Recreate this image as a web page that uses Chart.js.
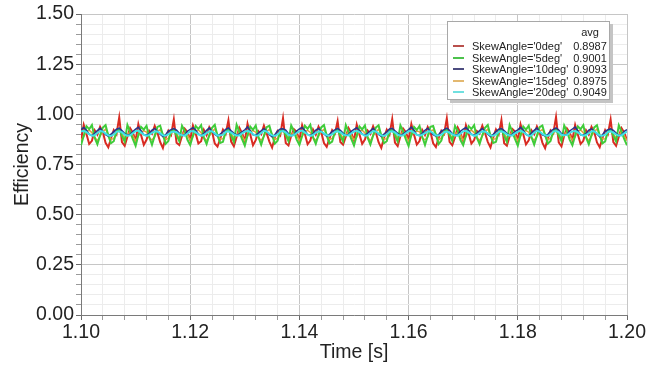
<!DOCTYPE html>
<html>
<head>
<meta charset="utf-8">
<script src="https://cdn.jsdelivr.net/npm/chart.js@4.4.1/dist/chart.umd.min.js"></script>
<style>
  body { margin: 0; background: #fff; }
  #wrap { position: relative; width: 652px; height: 370px; }
  #legend {
    position: absolute; left: 447px; top: 21px; width: 161px; height: 77px;
    background: #fff; border: 1px solid #a8a8a8; box-shadow: 3px 3px 0 #c4c4c4;
    font: 11px "Liberation Sans", Arial, sans-serif; color: #222;
  }
  #legend .row { position: absolute; left: 0; width: 161px; height: 12px; line-height: 12px; }
  #legend .sw { position: absolute; left: 5px; top: 5px; width: 11px; height: 2px; }
  #legend .lab { position: absolute; left: 24px; white-space: nowrap; }
  #legend .val { position: absolute; right: 2px; width: 34px; text-align: center; }
</style>
</head>
<body>
<div id="wrap">
  <canvas id="myChart" width="652" height="370"></canvas>
  <div id="legend"></div>
</div>
<script>
// time samples [s]
const time = [
  1.1000,1.1005,1.1010,1.1015,1.1020,1.1025,1.1030,1.1035,1.1040,1.1045,1.1050,1.1055,1.1060,1.1065,1.1070,1.1075,1.1080,1.1085,1.1090,1.1095,
  1.1100,1.1105,1.1110,1.1115,1.1120,1.1125,1.1130,1.1135,1.1140,1.1145,1.1150,1.1155,1.1160,1.1165,1.1170,1.1175,1.1180,1.1185,1.1190,1.1195,
  1.1200,1.1205,1.1210,1.1215,1.1220,1.1225,1.1230,1.1235,1.1240,1.1245,1.1250,1.1255,1.1260,1.1265,1.1270,1.1275,1.1280,1.1285,1.1290,1.1295,
  1.1300,1.1305,1.1310,1.1315,1.1320,1.1325,1.1330,1.1335,1.1340,1.1345,1.1350,1.1355,1.1360,1.1365,1.1370,1.1375,1.1380,1.1385,1.1390,1.1395,
  1.1400,1.1405,1.1410,1.1415,1.1420,1.1425,1.1430,1.1435,1.1440,1.1445,1.1450,1.1455,1.1460,1.1465,1.1470,1.1475,1.1480,1.1485,1.1490,1.1495,
  1.1500,1.1505,1.1510,1.1515,1.1520,1.1525,1.1530,1.1535,1.1540,1.1545,1.1550,1.1555,1.1560,1.1565,1.1570,1.1575,1.1580,1.1585,1.1590,1.1595,
  1.1600,1.1605,1.1610,1.1615,1.1620,1.1625,1.1630,1.1635,1.1640,1.1645,1.1650,1.1655,1.1660,1.1665,1.1670,1.1675,1.1680,1.1685,1.1690,1.1695,
  1.1700,1.1705,1.1710,1.1715,1.1720,1.1725,1.1730,1.1735,1.1740,1.1745,1.1750,1.1755,1.1760,1.1765,1.1770,1.1775,1.1780,1.1785,1.1790,1.1795,
  1.1800,1.1805,1.1810,1.1815,1.1820,1.1825,1.1830,1.1835,1.1840,1.1845,1.1850,1.1855,1.1860,1.1865,1.1870,1.1875,1.1880,1.1885,1.1890,1.1895,
  1.1900,1.1905,1.1910,1.1915,1.1920,1.1925,1.1930,1.1935,1.1940,1.1945,1.1950,1.1955,1.1960,1.1965,1.1970,1.1975,1.1980,1.1985,1.1990,1.1995,
  1.2000
];

const seriesNames = ["SkewAngle='0deg'", "SkewAngle='5deg'", "SkewAngle='10deg'", "SkewAngle='15deg'", "SkewAngle='20deg'"];
const avgValues = ['0.8987', '0.9001', '0.9093', '0.8975', '0.9049'];

const skew0 = [
  0.872,0.948,0.902,0.852,0.868,0.921,0.899,0.938,0.912,0.858,0.836,0.881,0.922,0.901,0.985,0.861,0.843,0.889,0.931,0.909,
  0.868,0.951,0.897,0.848,0.873,0.918,0.903,0.942,0.908,0.862,0.832,0.884,0.919,0.898,0.975,0.858,0.847,0.892,0.928,0.912,
  0.874,0.944,0.905,0.855,0.866,0.923,0.896,0.936,0.914,0.855,0.839,0.878,0.924,0.903,0.970,0.864,0.841,0.887,0.933,0.906,
  0.866,0.953,0.899,0.846,0.871,0.916,0.901,0.944,0.906,0.864,0.834,0.886,0.917,0.897,0.981,0.857,0.845,0.893,0.926,0.913,
  0.871,0.946,0.903,0.851,0.869,0.924,0.898,0.939,0.911,0.857,0.838,0.879,0.921,0.904,0.966,0.862,0.849,0.888,0.932,0.908,
  0.869,0.949,0.900,0.853,0.874,0.919,0.902,0.941,0.909,0.861,0.833,0.883,0.923,0.899,0.976,0.859,0.842,0.891,0.929,0.911,
  0.873,0.952,0.898,0.849,0.867,0.922,0.897,0.937,0.913,0.856,0.837,0.882,0.918,0.902,0.980,0.863,0.846,0.886,0.934,0.907,
  0.867,0.945,0.904,0.854,0.872,0.917,0.904,0.943,0.907,0.863,0.835,0.885,0.925,0.900,0.971,0.856,0.844,0.890,0.927,0.914,
  0.870,0.950,0.901,0.850,0.870,0.920,0.900,0.940,0.910,0.859,0.831,0.880,0.920,0.905,0.986,0.860,0.840,0.894,0.930,0.910,
  0.872,0.947,0.899,0.852,0.868,0.921,0.899,0.938,0.912,0.860,0.836,0.881,0.922,0.901,0.974,0.861,0.843,0.889,0.931,0.909,
  0.871
];
const skew5 = [
  0.846,0.893,0.941,0.926,0.947,0.884,0.851,0.896,0.934,0.946,0.894,0.856,0.866,0.914,0.926,0.893,0.864,0.947,0.913,0.876,
  0.843,0.897,0.938,0.924,0.943,0.887,0.848,0.894,0.937,0.944,0.897,0.853,0.867,0.916,0.923,0.896,0.866,0.943,0.917,0.873,
  0.847,0.894,0.942,0.927,0.946,0.883,0.852,0.897,0.933,0.948,0.893,0.857,0.863,0.913,0.927,0.894,0.863,0.948,0.914,0.877,
  0.844,0.896,0.939,0.923,0.944,0.886,0.849,0.893,0.936,0.943,0.896,0.854,0.868,0.917,0.924,0.897,0.867,0.944,0.916,0.874,
  0.848,0.892,0.943,0.928,0.948,0.885,0.853,0.898,0.935,0.947,0.895,0.855,0.864,0.912,0.925,0.892,0.865,0.946,0.912,0.878,
  0.845,0.895,0.940,0.925,0.945,0.884,0.850,0.895,0.934,0.945,0.894,0.856,0.866,0.915,0.926,0.895,0.864,0.945,0.915,0.875,
  0.842,0.898,0.937,0.922,0.942,0.888,0.847,0.892,0.938,0.942,0.898,0.852,0.869,0.918,0.922,0.898,0.868,0.942,0.918,0.872,
  0.847,0.893,0.941,0.927,0.946,0.883,0.852,0.896,0.933,0.947,0.893,0.857,0.863,0.913,0.927,0.893,0.863,0.947,0.913,0.877,
  0.844,0.896,0.939,0.924,0.944,0.886,0.849,0.894,0.936,0.944,0.896,0.854,0.867,0.916,0.924,0.896,0.866,0.944,0.916,0.874,
  0.846,0.894,0.940,0.926,0.946,0.885,0.851,0.897,0.935,0.946,0.895,0.855,0.865,0.914,0.925,0.894,0.865,0.946,0.914,0.876,
  0.846
];
const skew10 = [
  0.924,0.934,0.921,0.901,0.894,0.906,0.919,0.931,0.914,0.899,0.891,0.901,0.914,0.926,0.931,0.919,0.904,0.896,0.901,0.914,
  0.926,0.936,0.919,0.899,0.896,0.904,0.921,0.929,0.916,0.901,0.889,0.899,0.916,0.924,0.929,0.921,0.906,0.894,0.899,0.916,
  0.925,0.933,0.922,0.902,0.893,0.905,0.920,0.932,0.913,0.900,0.892,0.902,0.913,0.925,0.932,0.918,0.905,0.897,0.902,0.913,
  0.923,0.937,0.918,0.898,0.897,0.907,0.918,0.928,0.917,0.898,0.888,0.898,0.917,0.927,0.928,0.922,0.903,0.893,0.898,0.917,
  0.927,0.935,0.920,0.900,0.895,0.903,0.922,0.930,0.915,0.902,0.890,0.900,0.915,0.923,0.930,0.920,0.907,0.895,0.900,0.915,
  0.925,0.933,0.920,0.902,0.895,0.905,0.918,0.930,0.915,0.900,0.890,0.902,0.913,0.927,0.930,0.918,0.905,0.895,0.902,0.913,
  0.924,0.936,0.921,0.899,0.894,0.906,0.921,0.931,0.914,0.899,0.891,0.899,0.916,0.924,0.931,0.921,0.904,0.896,0.899,0.916,
  0.926,0.934,0.919,0.901,0.896,0.904,0.919,0.929,0.916,0.901,0.889,0.901,0.914,0.926,0.929,0.919,0.906,0.894,0.901,0.914,
  0.923,0.935,0.922,0.900,0.893,0.907,0.920,0.932,0.913,0.898,0.892,0.900,0.917,0.925,0.932,0.922,0.903,0.897,0.900,0.917,
  0.927,0.937,0.918,0.898,0.897,0.903,0.922,0.928,0.917,0.902,0.888,0.898,0.915,0.923,0.928,0.920,0.907,0.893,0.898,0.915,
  0.924
];
const skew15 = [
  0.871,0.889,0.916,0.921,0.909,0.886,0.869,0.891,0.914,0.926,0.899,0.876,0.879,0.906,0.921,0.904,0.881,0.894,0.916,0.894,
  0.868,0.892,0.913,0.918,0.912,0.883,0.872,0.888,0.917,0.923,0.902,0.873,0.882,0.903,0.918,0.907,0.878,0.897,0.913,0.897,
  0.872,0.888,0.917,0.922,0.908,0.887,0.868,0.892,0.913,0.927,0.898,0.877,0.878,0.907,0.922,0.903,0.882,0.893,0.917,0.893,
  0.869,0.891,0.914,0.919,0.911,0.884,0.871,0.889,0.916,0.924,0.901,0.874,0.881,0.904,0.919,0.906,0.879,0.896,0.914,0.896,
  0.870,0.890,0.915,0.920,0.910,0.885,0.870,0.890,0.915,0.925,0.900,0.875,0.880,0.905,0.920,0.905,0.880,0.895,0.915,0.895,
  0.873,0.887,0.918,0.921,0.907,0.888,0.867,0.893,0.912,0.926,0.897,0.878,0.877,0.908,0.921,0.902,0.883,0.892,0.918,0.892,
  0.867,0.893,0.912,0.917,0.913,0.882,0.873,0.887,0.918,0.922,0.903,0.872,0.883,0.902,0.917,0.908,0.877,0.898,0.912,0.898,
  0.871,0.889,0.916,0.921,0.909,0.886,0.869,0.891,0.914,0.926,0.899,0.876,0.879,0.906,0.921,0.904,0.881,0.894,0.916,0.894,
  0.869,0.891,0.914,0.919,0.911,0.884,0.871,0.889,0.916,0.924,0.901,0.874,0.881,0.904,0.919,0.906,0.879,0.896,0.914,0.896,
  0.872,0.888,0.917,0.922,0.908,0.887,0.868,0.892,0.913,0.927,0.898,0.877,0.878,0.907,0.922,0.903,0.882,0.893,0.917,0.893,
  0.870
];
const skew20 = [
  0.914,0.918,0.911,0.901,0.893,0.896,0.907,0.917,0.915,0.904,0.895,0.892,0.900,0.913,0.916,0.910,0.899,0.894,0.896,0.906,
  0.916,0.919,0.909,0.899,0.892,0.898,0.908,0.915,0.914,0.906,0.896,0.893,0.901,0.911,0.914,0.911,0.901,0.896,0.894,0.904,
  0.915,0.917,0.910,0.900,0.894,0.897,0.906,0.916,0.916,0.905,0.894,0.894,0.899,0.912,0.915,0.909,0.900,0.895,0.895,0.905,
  0.913,0.918,0.912,0.902,0.893,0.895,0.907,0.918,0.915,0.903,0.895,0.892,0.900,0.914,0.917,0.910,0.898,0.894,0.897,0.907,
  0.915,0.919,0.910,0.900,0.892,0.897,0.908,0.916,0.914,0.905,0.896,0.893,0.901,0.912,0.915,0.911,0.900,0.896,0.895,0.905,
  0.914,0.918,0.911,0.901,0.893,0.896,0.907,0.917,0.915,0.904,0.895,0.892,0.900,0.913,0.916,0.910,0.899,0.894,0.896,0.906,
  0.916,0.917,0.909,0.899,0.894,0.898,0.906,0.915,0.916,0.906,0.894,0.894,0.899,0.911,0.914,0.909,0.901,0.895,0.894,0.904,
  0.915,0.918,0.910,0.900,0.893,0.897,0.907,0.916,0.915,0.905,0.895,0.893,0.900,0.912,0.915,0.910,0.900,0.895,0.895,0.905,
  0.913,0.919,0.912,0.902,0.892,0.895,0.908,0.918,0.914,0.903,0.896,0.892,0.901,0.914,0.917,0.911,0.898,0.896,0.897,0.907,
  0.915,0.917,0.910,0.900,0.894,0.897,0.906,0.916,0.916,0.905,0.894,0.893,0.899,0.912,0.915,0.909,0.900,0.894,0.895,0.905,
  0.914
];

const xMajorTicks = [1.10, 1.12, 1.14, 1.16, 1.18, 1.20];
const yMajorTicks = [0.00, 0.25, 0.50, 0.75, 1.00, 1.25, 1.50];

// line styles, drawing order: cyan on top, red at the bottom
const styles = [
  { color: '#d92b22', width: 2, order: 5 },
  { color: '#3fcc3a', width: 2, order: 3 },
  { color: '#25358f', width: 1.5, order: 2 },
  { color: '#e3a03a', width: 1.5, order: 4 },
  { color: '#40e2e6', width: 2, order: 1 }
];
const legendSwatch = ['#b9504c', '#4cc24c', '#4c4c80', '#e3b870', '#70e0e0'];

// major ticks with minor subdivisions in between
function withMinor(majors, parts) {
  const out = [];
  for (let i = 0; i < majors.length - 1; i++) {
    const step = (majors[i + 1] - majors[i]) / parts;
    for (let j = 0; j < parts; j++) out.push({ value: majors[i] + j * step, major: j === 0 });
  }
  out.push({ value: majors[majors.length - 1], major: true });
  return out;
}

const font = 'Liberation Sans';
const seriesData = [skew0, skew5, skew10, skew15, skew20];

const canvas = document.getElementById('myChart');
new Chart(canvas, {
  type: 'line',
  data: {
    labels: time,
    datasets: seriesData.map((d, i) => ({
      label: seriesNames[i],
      data: d,
      borderColor: styles[i].color,
      borderWidth: styles[i].width,
      order: styles[i].order,
      pointRadius: 0,
      tension: 0,
      fill: false
    }))
  },
  options: {
    responsive: false,
    animation: false,
    layout: { padding: { left: 0, right: 25, top: 14, bottom: 0 } },
    plugins: { legend: { display: false }, tooltip: { enabled: false } },
    scales: {
      x: {
        type: 'linear',
        min: 1.10,
        max: 1.20,
        afterBuildTicks: s => { s.ticks = withMinor(xMajorTicks, 5); },
        afterFit: s => { s.height = 55; },
        border: { color: '#7a7a7a' },
        grid: {
          color: c => c.tick && c.tick.major ? '#c6c6c6' : '#ececec',
          tickColor: c => c.tick && c.tick.major ? '#6a6a6a' : '#9a9a9a',
          tickLength: 5
        },
        ticks: {
          autoSkip: false,
          maxRotation: 0,
          padding: 1,
          color: '#222',
          font: { family: font, size: 19.5 },
          callback: function (v, i, ticks) { return ticks[i].major ? v.toFixed(2) : ''; }
        },
        title: { display: true, text: 'Time [s]', color: '#222', font: { family: font, size: 19.5 }, padding: { top: 0, bottom: 6 } }
      },
      y: {
        min: 0,
        max: 1.5,
        afterBuildTicks: s => { s.ticks = withMinor(yMajorTicks, 5); },
        afterFit: s => { s.width = 81; },
        border: { color: '#7a7a7a' },
        grid: {
          color: c => c.tick && c.tick.major ? '#c6c6c6' : '#ececec',
          tickColor: c => c.tick && c.tick.major ? '#6a6a6a' : '#9a9a9a',
          tickLength: 5
        },
        ticks: {
          autoSkip: false,
          padding: 2,
          color: '#222',
          font: { family: font, size: 19.5 },
          callback: function (v, i, ticks) { return ticks[i].major ? v.toFixed(2) : ''; }
        },
        title: { display: true, text: 'Efficiency', color: '#222', font: { family: font, size: 19.5 }, padding: { top: 11, bottom: 0 } }
      }
    }
  }
});

// legend table with averages
const legend = document.getElementById('legend');
let html = '<div class="row" style="top:4px"><span class="val">avg</span></div>';
seriesNames.forEach((name, i) => {
  html += '<div class="row" style="top:' + (18 + i * 11.5) + 'px">' +
    '<span class="sw" style="background:' + legendSwatch[i] + '"></span>' +
    '<span class="lab">' + name + '</span>' +
    '<span class="val">' + avgValues[i] + '</span></div>';
});
legend.innerHTML = html;
</script>
</body>
</html>
